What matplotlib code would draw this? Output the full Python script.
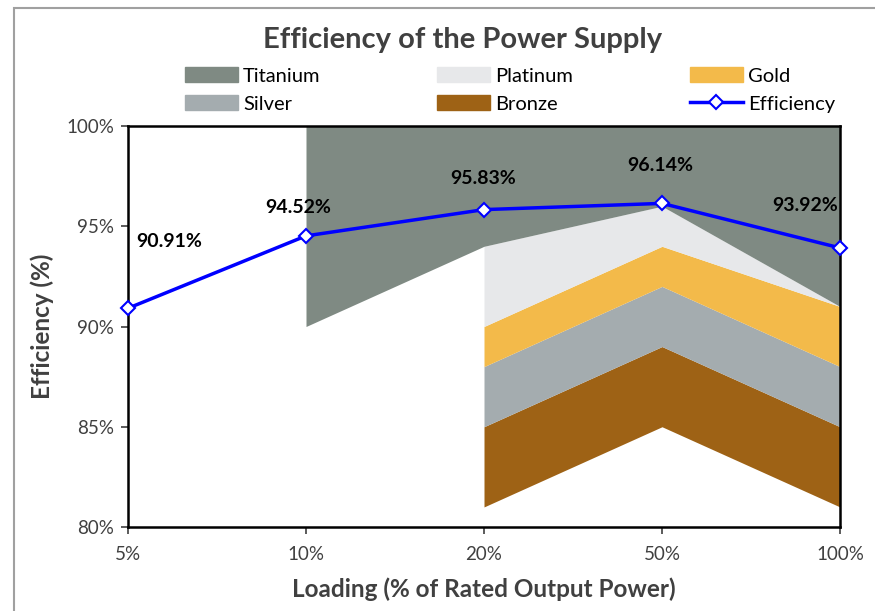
import matplotlib
matplotlib.use("Agg")
import matplotlib.pyplot as plt
import numpy as np
from matplotlib.patches import Patch, Rectangle
from matplotlib.lines import Line2D

plt.rcParams['font.family'] = ['Lato', 'DejaVu Sans']

categories = ["5%", "10%", "20%", "50%", "100%"]
efficiency = [90.91, 94.52, 95.83, 96.14, 93.92]
eff_labels = ["90.91%", "94.52%", "95.83%", "96.14%", "93.92%"]
bronze = [np.nan, np.nan, 81, 85, 81]
silver = [np.nan, np.nan, 85, 89, 85]
gold = [np.nan, np.nan, 88, 92, 88]
platinum = [np.nan, np.nan, 90, 94, 91]
titanium = [np.nan, 90, 94, 96, 91]
ceiling = [100, 100, 100, 100, 100]

c_ti = "#7F8A83"
c_pt = "#E7E8EA"
c_au = "#F3BA4A"
c_ag = "#A4ACAF"
c_br = "#9E6215"
txt = "#404040"

fig = plt.figure(figsize=(8.75, 6.11), dpi=100)
ax = fig.add_axes([128/875, 1-527/611, (840-128)/875, (527-126)/611])

x = np.arange(len(categories))
ax.fill_between(x, bronze, silver, color=c_br, lw=0)
ax.fill_between(x, silver, gold, color=c_ag, lw=0)
ax.fill_between(x, gold, platinum, color=c_au, lw=0)
ax.fill_between(x, platinum, titanium, color=c_pt, lw=0)
ax.fill_between(x, titanium, ceiling, color=c_ti, lw=0)

ax.plot(x, efficiency, color="#0000FF", lw=2.5, marker="D", markersize=7,
        markerfacecolor="white", markeredgecolor="#0000FF", markeredgewidth=1.5,
        zorder=5, clip_on=False)

offsets = [(41, 67), (-8, 28), (-1, 31), (-2, 38), (-35, 42)]
for xi, yi, lab, off in zip(x, efficiency, eff_labels, offsets):
    ax.annotate(lab, (xi, yi), xytext=off, textcoords="offset pixels",
                ha="center", va="center", fontsize=14, fontweight="bold",
                color="black", zorder=6)

ax.set_xlim(0, 4)
ax.set_ylim(80, 100)
ax.set_xticks(x)
ax.set_xticklabels(categories)
ax.set_yticks([80, 85, 90, 95, 100])
ax.set_yticklabels(["80%", "85%", "90%", "95%", "100%"])
ax.tick_params(axis="both", labelsize=13.5, colors=txt, length=5, width=1.2,
               direction="out", labelcolor=txt)
ax.tick_params(axis="y", pad=5)
ax.tick_params(axis="x", pad=9)
for sp in ax.spines.values():
    sp.set_color("black")
    sp.set_linewidth(1.8)

ax.set_xlabel("Loading (% of Rated Output Power)", fontsize=17.5, fontweight="bold",
              color=txt, labelpad=10)
ax.set_ylabel("Efficiency (%)", fontsize=17.5, fontweight="bold", color=txt, labelpad=9)

fig.text(463/875, 1-40/611, "Efficiency of the Power Supply", ha="center", va="center",
         fontsize=21, fontweight="bold", color=txt)

handles = [Patch(color=c_ti, label="Titanium"), Patch(color=c_ag, label="Silver"),
           Patch(color=c_pt, label="Platinum"), Patch(color=c_br, label="Bronze"),
           Patch(color=c_au, label="Gold"),
           Line2D([], [], color="#0000FF", lw=2.5, marker="D", markersize=7,
                  markerfacecolor="white", markeredgecolor="#0000FF",
                  markeredgewidth=1.5, label="Efficiency")]
leg = fig.legend(handles=handles, ncol=3, loc="center", bbox_to_anchor=(510/875, 1-90/611),
                 frameon=False, fontsize=14.5, handlelength=2.63, handleheight=0.75,
                 handletextpad=0.25, columnspacing=5.8, labelspacing=0.52,
                 borderpad=0, borderaxespad=0)
for t in leg.get_texts():
    t.set_color("black")

fig.patches.append(Rectangle((14/875, -0.1), 1.2, 1-8/611 + 0.1, transform=fig.transFigure,
                             fill=False, edgecolor="#A0A0A0", lw=1.5))

fig.savefig("out.png", dpi=100)
